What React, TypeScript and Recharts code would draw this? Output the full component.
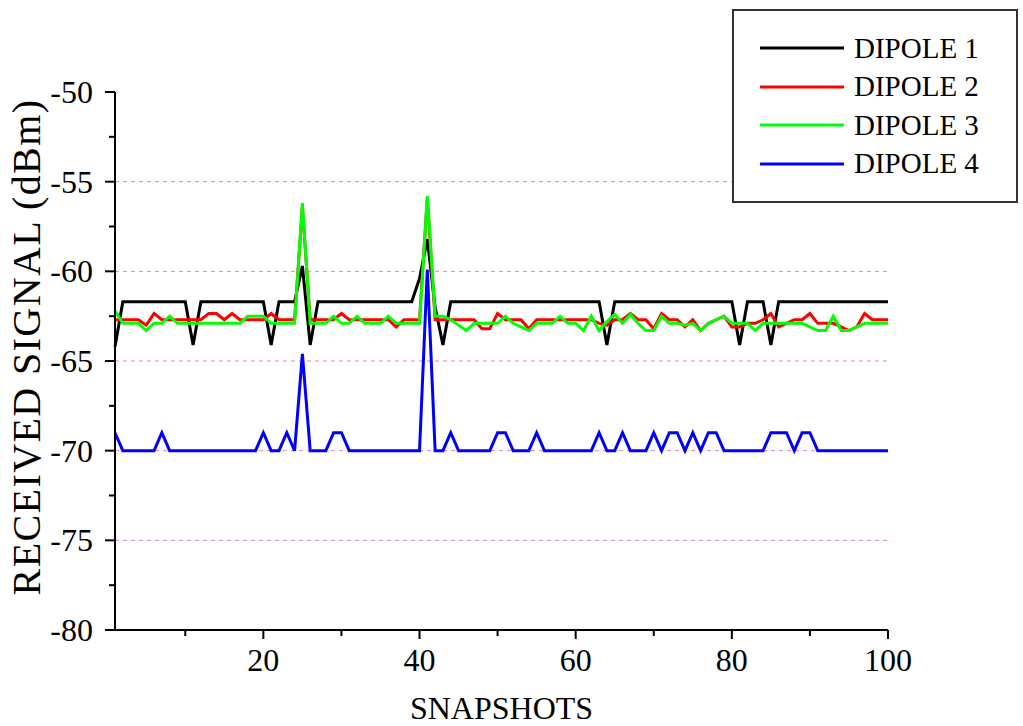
import React from "react";
import { LineChart, Line, XAxis, YAxis, ReferenceLine, Label } from "recharts";

const FONT = '"Liberation Serif", "Times New Roman", serif';

// snapshot index (x axis)
const snapshots = [
  1, 2, 3, 4, 5, 6, 7, 8, 9, 10, 11, 12, 13, 14, 15, 16, 17, 18, 19, 20,
  21, 22, 23, 24, 25, 26, 27, 28, 29, 30, 31, 32, 33, 34, 35, 36, 37, 38, 39, 40,
  41, 42, 43, 44, 45, 46, 47, 48, 49, 50, 51, 52, 53, 54, 55, 56, 57, 58, 59, 60,
  61, 62, 63, 64, 65, 66, 67, 68, 69, 70, 71, 72, 73, 74, 75, 76, 77, 78, 79, 80,
  81, 82, 83, 84, 85, 86, 87, 88, 89, 90, 91, 92, 93, 94, 95, 96, 97, 98, 99, 100,
];

// received signal, dBm
const dipole1 = [
  -64.2, -61.7, -61.7, -61.7, -61.7, -61.7, -61.7, -61.7, -61.7, -61.7,
  -64.1, -61.7, -61.7, -61.7, -61.7, -61.7, -61.7, -61.7, -61.7, -61.7,
  -64.1, -61.7, -61.7, -61.7, -59.7, -64.1, -61.7, -61.7, -61.7, -61.7,
  -61.7, -61.7, -61.7, -61.7, -61.7, -61.7, -61.7, -61.7, -61.7, -60.4,
  -58.2, -62.0, -64.1, -61.7, -61.7, -61.7, -61.7, -61.7, -61.7, -61.7,
  -61.7, -61.7, -61.7, -61.7, -61.7, -61.7, -61.7, -61.7, -61.7, -61.7,
  -61.7, -61.7, -61.7, -64.1, -61.7, -61.7, -61.7, -61.7, -61.7, -61.7,
  -61.7, -61.7, -61.7, -61.7, -61.7, -61.7, -61.7, -61.7, -61.7, -61.7,
  -64.1, -61.7, -61.7, -61.7, -64.1, -61.7, -61.7, -61.7, -61.7, -61.7,
  -61.7, -61.7, -61.7, -61.7, -61.7, -61.7, -61.7, -61.7, -61.7, -61.7,
];

const dipole2 = [
  -62.7, -62.7, -62.7, -62.7, -63.0, -62.35, -62.7, -62.7, -62.7, -62.7,
  -62.7, -62.7, -62.35, -62.35, -62.7, -62.35, -62.7, -62.7, -62.7, -62.7,
  -62.35, -62.7, -62.7, -62.7, -56.4, -62.7, -62.7, -62.7, -62.7, -62.35,
  -62.7, -62.7, -62.7, -62.7, -62.7, -62.7, -63.1, -62.7, -62.7, -62.7,
  -55.9, -62.7, -62.7, -62.7, -62.7, -62.7, -62.7, -63.2, -63.2, -62.35,
  -62.7, -62.7, -62.7, -63.2, -62.7, -62.7, -62.7, -62.7, -62.7, -62.7,
  -62.7, -62.7, -62.9, -63.0, -62.7, -62.7, -62.35, -62.7, -62.7, -63.2,
  -62.35, -62.7, -62.7, -63.1, -62.7, -63.3, -62.9, -62.7, -62.5, -63.1,
  -63.1, -62.9, -62.9, -62.7, -62.35, -63.1, -62.9, -62.7, -62.7, -62.35,
  -62.9, -62.9, -62.9, -63.1, -63.3, -63.1, -62.35, -62.7, -62.7, -62.7,
];

const dipole3 = [
  -62.2, -62.9, -62.9, -62.9, -63.3, -62.9, -62.9, -62.5, -62.9, -62.9,
  -62.9, -62.9, -62.9, -62.9, -62.9, -62.9, -62.9, -62.5, -62.5, -62.5,
  -62.9, -62.9, -62.9, -62.9, -56.2, -62.9, -62.9, -62.9, -62.5, -62.9,
  -62.9, -62.5, -62.9, -62.9, -62.9, -62.5, -62.9, -62.9, -62.9, -62.9,
  -55.8, -62.5, -62.5, -62.7, -63.0, -63.3, -62.9, -62.9, -62.9, -62.9,
  -62.5, -62.9, -63.1, -63.3, -62.9, -62.9, -62.9, -62.5, -62.9, -62.9,
  -63.3, -62.5, -63.3, -62.8, -62.4, -62.9, -62.4, -62.9, -63.3, -63.3,
  -62.5, -62.9, -62.9, -63.0, -62.9, -63.3, -62.9, -62.7, -62.5, -62.9,
  -62.9, -62.9, -63.3, -62.9, -62.9, -62.9, -62.9, -62.9, -62.9, -63.1,
  -63.3, -63.3, -62.5, -63.3, -63.3, -63.1, -62.9, -62.9, -62.9, -62.9,
];

const dipole4 = [
  -69, -70, -70, -70, -70, -70, -69, -70, -70, -70,
  -70, -70, -70, -70, -70, -70, -70, -70, -70, -69,
  -70, -70, -69, -70, -64.6, -70, -70, -70, -69, -69,
  -70, -70, -70, -70, -70, -70, -70, -70, -70, -70,
  -59.9, -70, -70, -69, -70, -70, -70, -70, -70, -69,
  -69, -70, -70, -70, -69, -70, -70, -70, -70, -70,
  -70, -70, -69, -70, -70, -69, -70, -70, -70, -69,
  -70, -69, -69, -70, -69, -70, -69, -69, -70, -70,
  -70, -70, -70, -70, -69, -69, -69, -70, -69, -69,
  -70, -70, -70, -70, -70, -70, -70, -70, -70, -70,
];

const seriesNames = ["DIPOLE 1", "DIPOLE 2", "DIPOLE 3", "DIPOLE 4"];
const seriesColors = ["#000000", "#ff0000", "#00ff00", "#0000ff"];

const xTicks = [10, 20, 30, 40, 50, 60, 70, 80, 90, 100];
const yTicks = [-80, -77.5, -75, -72.5, -70, -67.5, -65, -62.5, -60, -57.5, -55, -52.5, -50];
const gridLevels = [-55, -60, -65, -70, -75];

const data = snapshots.map((s, i) => ({
  s,
  d1: dipole1[i],
  d2: dipole2[i],
  d3: dipole3[i],
  d4: dipole4[i],
}));
const keys = ["d1", "d2", "d3", "d4"];

const XTick = (props: any) => {
  const { x, y, payload } = props;
  const v = payload.value;
  const major = v % 20 === 0;
  return (
    <g>
      <line x1={x} x2={x} y1={y} y2={y + (major ? 9 : 6)} stroke="#000" strokeWidth={2} />
      {major && (
        <text x={x} y={y + 18} dy="0.71em" textAnchor="middle" fontSize={32} fontFamily={FONT} fill="#000">
          {v}
        </text>
      )}
    </g>
  );
};

const YTick = (props: any) => {
  const { x, y, payload } = props;
  const v = payload.value;
  const major = v % 5 === 0;
  return (
    <g>
      <line x1={x - (major ? 10 : 6)} x2={x} y1={y} y2={y} stroke="#000" strokeWidth={2} />
      {major && (
        <text x={x - 22} y={y} dy="0.34em" textAnchor="end" fontSize={32} fontFamily={FONT} fill="#000">
          {v}
        </text>
      )}
    </g>
  );
};

const Legend = () => (
  <div
    style={{
      position: "absolute",
      left: 732,
      top: 9,
      width: 286,
      height: 194,
      border: "2px solid #333",
      boxSizing: "border-box",
      background: "#fff",
    }}
  >
    {seriesNames.map((name, i) => (
      <div
        key={name}
        style={{
          position: "absolute",
          left: 26,
          top: 18 + i * 38.5,
          height: 38,
          display: "flex",
          alignItems: "center",
          fontFamily: FONT,
          fontSize: 29,
          color: "#000",
          whiteSpace: "nowrap",
        }}
      >
        <svg width={84} height={6} style={{ marginRight: 10 }}>
          <line x1={0} x2={84} y1={3} y2={3} stroke={seriesColors[i]} strokeWidth={3} />
        </svg>
        <span>{name}</span>
      </div>
    ))}
  </div>
);

export default function App() {
  return (
    <div style={{ position: "absolute", left: 0, top: 0, width: 1023, height: 726, background: "#fff", overflow: "hidden" }}>
      <LineChart
        width={1023}
        height={726}
        data={data}
        margin={{ top: 92, right: 135, bottom: 0, left: 0 }}
      >
        <XAxis
          dataKey="s"
          type="number"
          domain={[1, 100]}
          ticks={xTicks}
          interval={0}
          height={96}
          tickSize={0}
          tickMargin={0}
          tickLine={false}
          tick={<XTick />}
          axisLine={{ stroke: "#000", strokeWidth: 2 }}
        >
          <Label
            content={(p: any) => {
              const vb = p.viewBox;
              return (
                <text
                  x={vb.x + vb.width / 2}
                  y={vb.y + vb.height - 7}
                  textAnchor="middle"
                  fontSize={32}
                  fontFamily={FONT}
                  fill="#000"
                >
                  SNAPSHOTS
                </text>
              );
            }}
          />
        </XAxis>
        <YAxis
          type="number"
          domain={[-80, -50]}
          ticks={yTicks}
          interval={0}
          width={115}
          tickSize={0}
          tickMargin={0}
          tickLine={false}
          tick={<YTick />}
          axisLine={{ stroke: "#000", strokeWidth: 2 }}
        >
          <Label
            content={(p: any) => {
              const vb = p.viewBox;
              const cx = vb.x + 40;
              const cy = vb.y + vb.height / 2 - 14;
              return (
                <text
                  x={cx}
                  y={cy}
                  transform={`rotate(-90, ${cx}, ${cy})`}
                  textAnchor="middle"
                  fontSize={40}
                  letterSpacing={1.4}
                  fontFamily={FONT}
                  fill="#000"
                >
                  RECEIVED SIGNAL (dBm)
                </text>
              );
            }}
          />
        </YAxis>
        {gridLevels.map((v) => (
          <ReferenceLine key={v} y={v} stroke="#e07ce0" strokeWidth={1} strokeDasharray="4 4" />
        ))}
        {keys.map((k, i) => (
          <Line
            key={k}
            type="linear"
            dataKey={k}
            name={seriesNames[i]}
            stroke={seriesColors[i]}
            strokeWidth={3}
            dot={false}
            isAnimationActive={false}
          />
        ))}
      </LineChart>
      <Legend />
    </div>
  );
}
